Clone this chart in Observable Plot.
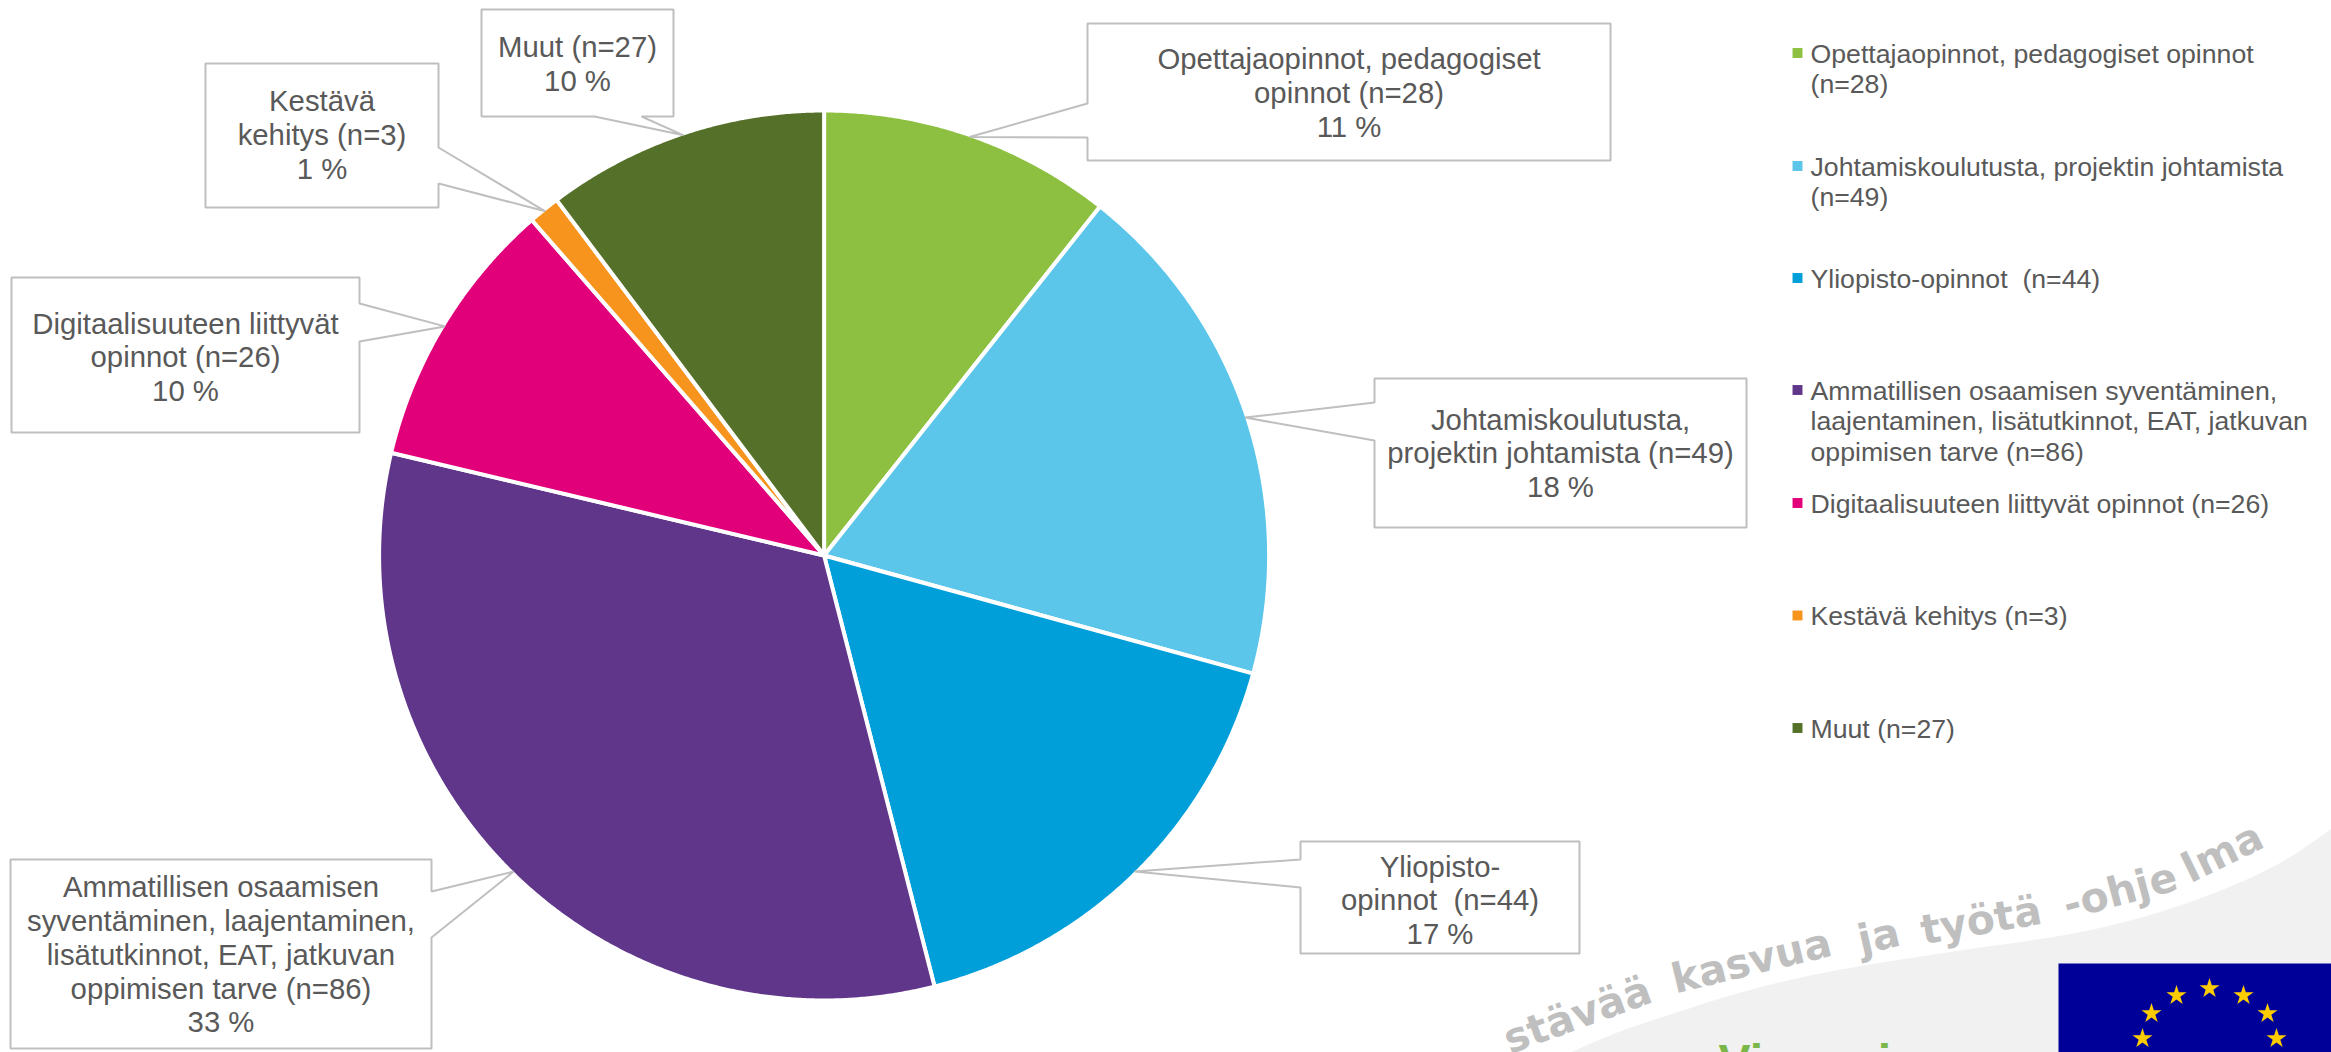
<!DOCTYPE html>
<html lang="fi">
<head>
<meta charset="utf-8">
<title>Opinnot</title>
<script src="https://cdn.jsdelivr.net/npm/d3@7"></script>
<script src="https://cdn.jsdelivr.net/npm/@observablehq/plot@0.6"></script>
<style>
  html, body { margin: 0; padding: 0; background: #fff; overflow: hidden; }
  g[aria-label="watermark"] text { letter-spacing: 5px; }
</style>
</head>
<body>
<div id="chart"></div>
<script>
// ---- data ----
const categories = [
  "Opettajaopinnot, pedagogiset opinnot",
  "Johtamiskoulutusta, projektin johtamista",
  "Yliopisto-opinnot",
  "Ammatillisen osaamisen syventäminen, laajentaminen, lisätutkinnot, EAT, jatkuvan oppimisen tarve",
  "Digitaalisuuteen liittyvät opinnot",
  "Kestävä kehitys",
  "Muut"
];
const counts = [28, 49, 44, 86, 26, 3, 27];
const percents = ["11 %", "18 %", "17 %", "33 %", "10 %", "1 %", "10 %"];
const legendLabels = [
  "Opettajaopinnot, pedagogiset opinnot\n(n=28)",
  "Johtamiskoulutusta, projektin johtamista\n(n=49)",
  "Yliopisto-opinnot  (n=44)",
  "Ammatillisen osaamisen syventäminen,\nlaajentaminen, lisätutkinnot, EAT, jatkuvan\noppimisen tarve (n=86)",
  "Digitaalisuuteen liittyvät opinnot (n=26)",
  "Kestävä kehitys (n=3)",
  "Muut (n=27)"
];
const calloutLabels = [
  "Opettajaopinnot, pedagogiset\nopinnot (n=28)",
  "Johtamiskoulutusta,\nprojektin johtamista (n=49)",
  "Yliopisto-\nopinnot  (n=44)",
  "Ammatillisen osaamisen\nsyventäminen, laajentaminen,\nlisätutkinnot, EAT, jatkuvan\noppimisen tarve (n=86)",
  "Digitaalisuuteen liittyvät\nopinnot (n=26)",
  "Kestävä\nkehitys (n=3)",
  "Muut (n=27)"
];
const colors = ["#8dc041", "#5bc5ea", "#009fda", "#60368a", "#e2007a", "#f7941e", "#557129"];

// ---- layout ----
const W = 2331, H = 1052;
const cx = 823.6, cy = 555, R = 445;
const calloutBoxes = [
  {x1: 1087, y1: 23,  x2: 1610, y2: 160,  side: "left",   a: 103, b: 137},
  {x1: 1374, y1: 378, x2: 1746, y2: 527,  side: "left",   a: 402, b: 440},
  {x1: 1300, y1: 841, x2: 1579, y2: 953,  side: "left",   a: 859, b: 887},
  {x1: 10,   y1: 859, x2: 431,  y2: 1048, side: "right",  a: 891, b: 937},
  {x1: 11,   y1: 277, x2: 359,  y2: 432,  side: "right",  a: 303, b: 341},
  {x1: 205,  y1: 63,  x2: 438,  y2: 207,  side: "right",  a: 147, b: 183},
  {x1: 481,  y1: 9,   x2: 673,  y2: 116,  side: "bottom", a: 594, b: 641}
];
const calloutOffsets = [0, -0.5, 2, 0, 1.5, -1.5, 0];
const legendY = [52.5, 165.5, 277.5, 389.5, 502.5, 615, 727.5];
const legendSwatchX = 1797, legendTextX = 1810;

const swooshGuide = [[1570,1052],[1610,1034],[1650,1020],[1683,1010],[1727,995],[1793,978],[1860,965],[1927,955],[1993,945],[2040,939],[2107,927],[2173,908],[2240,883],[2290,858],[2331,828]];
const flagBox = [[2058,963],[2331,963],[2331,1052],[2058,1052]];
const starPositions = [[2209,988],[2176,995],[2243,995],[2151,1013],[2267,1013],[2142,1038],[2276,1038]];
const watermark = [
  {text: "stävää",   x: 1654, y: 1001, rotate: -20,   anchor: "end"},
  {text: "kasvua",   x: 1675, y: 993,  rotate: -13.6, anchor: "start"},
  {text: "ja",       x: 1861, y: 954,  rotate: -13,   anchor: "start"},
  {text: "työtä",    x: 1923, y: 944,  rotate: -10,   anchor: "start"},
  {text: "-ohje",    x: 2067, y: 919,  rotate: -15,   anchor: "start"},
  {text: "lma",      x: 2190, y: 883,  rotate: -26,   anchor: "start"}
];

// ---- geometry derived from the data ----
const arcs = d3.pie().sort(null)(counts);
const polar = (angle, r) => [cx + r * Math.sin(angle), cy - r * Math.cos(angle)];
const polygon = (ring, properties) => ({
  type: "Feature", properties,
  geometry: {type: "Polygon", coordinates: [[...ring, ring[0]]]}
});
const slices = arcs.map((arc, i) => {
  const n = Math.max(2, Math.ceil((arc.endAngle - arc.startAngle) / 0.005));
  const ring = [[cx, cy]];
  for (let k = 0; k <= n; ++k) ring.push(polar(arc.startAngle + (arc.endAngle - arc.startAngle) * k / n, R));
  return polygon(ring, {name: categories[i]});
});
const callouts = calloutBoxes.map((b, i) => {
  const tip = polar((arcs[i].startAngle + arcs[i].endAngle) / 2, R - 2);
  const ring = b.side === "left"
    ? [[b.x1,b.y1],[b.x2,b.y1],[b.x2,b.y2],[b.x1,b.y2],[b.x1,b.b],tip,[b.x1,b.a]]
    : b.side === "right"
    ? [[b.x1,b.y1],[b.x2,b.y1],[b.x2,b.a],tip,[b.x2,b.b],[b.x2,b.y2],[b.x1,b.y2]]
    : [[b.x1,b.y1],[b.x2,b.y1],[b.x2,b.y2],[b.b,b.y2],tip,[b.a,b.y2],[b.x1,b.y2]];
  return polygon(ring, {name: categories[i]});
});
const calloutText = calloutBoxes.map((b, i) => ({
  x: (b.x1 + b.x2) / 2,
  y: (b.y1 + b.y2) / 2 + calloutOffsets[i],
  label: calloutLabels[i] + "\n" + percents[i]
}));
const legendRows = categories.map((name, i) => ({name, label: legendLabels[i], y: legendY[i]}));

// the decorative swoosh: a smooth edge through the guide points, closed at the corner
const edgeX = d3.interpolateBasis(swooshGuide.map(p => p[0]));
const edgeY = d3.interpolateBasis(swooshGuide.map(p => p[1]));
const swoosh = [...d3.range(0, 1.0001, 0.01).map(t => [edgeX(t), edgeY(t)]), [W, H], [swooshGuide[0][0], H]];

const font = "Liberation Sans, Arial, sans-serif";
const watermarkStyle = {
  ariaLabel: "watermark", x: "x", y: "y", text: "text", rotate: "rotate", lineAnchor: "bottom",
  fontFamily: "DejaVu Sans", fontWeight: "bold", fontSize: 41, fill: "#bfbfbf"
};
const chart = Plot.plot({
  width: W,
  height: H,
  margin: 0,
  projection: d3.geoIdentity(),
  color: {domain: categories, range: colors},
  style: {background: "#fff", maxWidth: "none"},
  marks: [
    Plot.geo([polygon(swoosh, {})], {fill: "#f1f1f1", stroke: "none"}),
    Plot.text(watermark, {...watermarkStyle, textAnchor: "start", filter: d => d.anchor === "start"}),
    Plot.text(watermark, {...watermarkStyle, textAnchor: "end", filter: d => d.anchor === "end"}),
    Plot.text(["Vipuvoimaa"], {
      x: () => 1718, y: () => 1077, text: d => d, textAnchor: "start", lineAnchor: "bottom",
      fontFamily: font, fontWeight: "bold", fontSize: 48, fill: "#7ab648"
    }),
    Plot.geo([polygon(flagBox, {})], {fill: "#000099", stroke: "none"}),
    Plot.dot(starPositions, {x: "0", y: "1", symbol: "star", r: 6.3, fill: "#ffcc00", stroke: "none"}),
    Plot.geo(slices, {fill: d => d.properties.name, stroke: "#fff", strokeWidth: 4, strokeLinejoin: "round"}),
    Plot.geo(callouts, {fill: "#fff", stroke: "#bfbfbf", strokeWidth: 2, strokeLinejoin: "miter"}),
    Plot.text(calloutText, {
      x: "x", y: "y", text: "label", textAnchor: "middle", lineAnchor: "middle",
      fontFamily: font, fontSize: 29.33, lineHeight: 1.15, fill: "#595959"
    }),
    Plot.dot(legendRows, {x: () => legendSwatchX, y: "y", fill: "name", symbol: "square", r: 5.6, stroke: "none"}),
    Plot.text(legendRows, {
      x: () => legendTextX, y: d => d.y - 12, text: "label", textAnchor: "start", lineAnchor: "top",
      fontFamily: font, fontSize: 26.67, lineHeight: 1.15, fill: "#595959"
    })
  ]
});
document.getElementById("chart").append(chart);
</script>
</body>
</html>
